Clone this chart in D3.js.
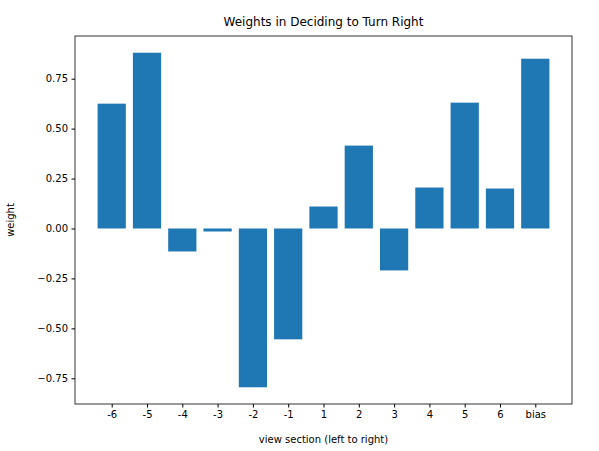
<!DOCTYPE html>
<html><head><meta charset="utf-8">
<script src="https://cdn.jsdelivr.net/npm/d3@7"></script>
<style>body{margin:0;background:#fff}text{font-family:"DejaVu Sans",sans-serif}</style>
</head><body><svg id="chart" width="599" height="451"></svg>
<script>
const categories = ["-6","-5","-4","-3","-2","-1","1","2","3","4","5","6","bias"];
const weights = [0.625,0.88,-0.115,-0.015,-0.795,-0.555,0.11,0.415,-0.21,0.205,0.63,0.20,0.85];
const yTicks = [-0.75,-0.5,-0.25,0,0.25,0.5,0.75];

const margin = {left: 75, right: 27, top: 36, bottom: 47};
const width = 599, height = 451;
const svg = d3.select("#chart");

const n = categories.length;
const pad = 0.05 * (n - 1 + 0.8);
const x = d3.scaleLinear().domain([-0.4 - pad, n - 1 + 0.4 + pad]).range([margin.left, width - margin.right]);
const yMin = d3.min(weights), yMax = d3.max(weights);
const yPad = 0.05 * (yMax - yMin);
const y = d3.scaleLinear().domain([yMin - yPad, yMax + yPad]).range([height - margin.bottom, margin.top]);

svg.selectAll("rect.bar").data(weights).enter().append("rect")
  .attr("class", "bar")
  .attr("x", (d, i) => x(i - 0.4))
  .attr("width", x(0.8) - x(0))
  .attr("y", d => y(Math.max(0, d)))
  .attr("height", d => Math.abs(y(d) - y(0)))
  .attr("fill", "#1f77b4");

const xAxis = d3.axisBottom(x).tickValues(d3.range(n)).tickFormat(i => categories[i]).tickSize(3.5).tickPadding(3.5);
svg.append("g").attr("transform", `translate(0,${height - margin.bottom})`).call(xAxis)
  .call(g => g.select(".domain").remove())
  .selectAll("text").attr("font-size", 10).attr("fill", "#000");

const yAxis = d3.axisLeft(y).tickValues(yTicks).tickFormat(d3.format(".2f")).tickSize(3.5).tickPadding(3.5);
svg.append("g").attr("transform", `translate(${margin.left},0)`).call(yAxis)
  .call(g => g.select(".domain").remove())
  .selectAll("text").attr("font-size", 10).attr("fill", "#000");

svg.append("rect").attr("x", margin.left).attr("y", margin.top)
  .attr("width", width - margin.left - margin.right).attr("height", height - margin.top - margin.bottom)
  .attr("fill", "none").attr("stroke", "#000").attr("stroke-width", 0.8);

svg.append("text").attr("x", (margin.left + width - margin.right) / 2).attr("y", 26)
  .attr("text-anchor", "middle").attr("font-size", 12).text("Weights in Deciding to Turn Right");
svg.append("text").attr("x", (margin.left + width - margin.right) / 2).attr("y", 443)
  .attr("text-anchor", "middle").attr("font-size", 10).text("view section (left to right)");
svg.append("text").attr("transform", `translate(14,${(margin.top + height - margin.bottom) / 2}) rotate(-90)`)
  .attr("text-anchor", "middle").attr("font-size", 10).text("weight");
</script></body></html>
